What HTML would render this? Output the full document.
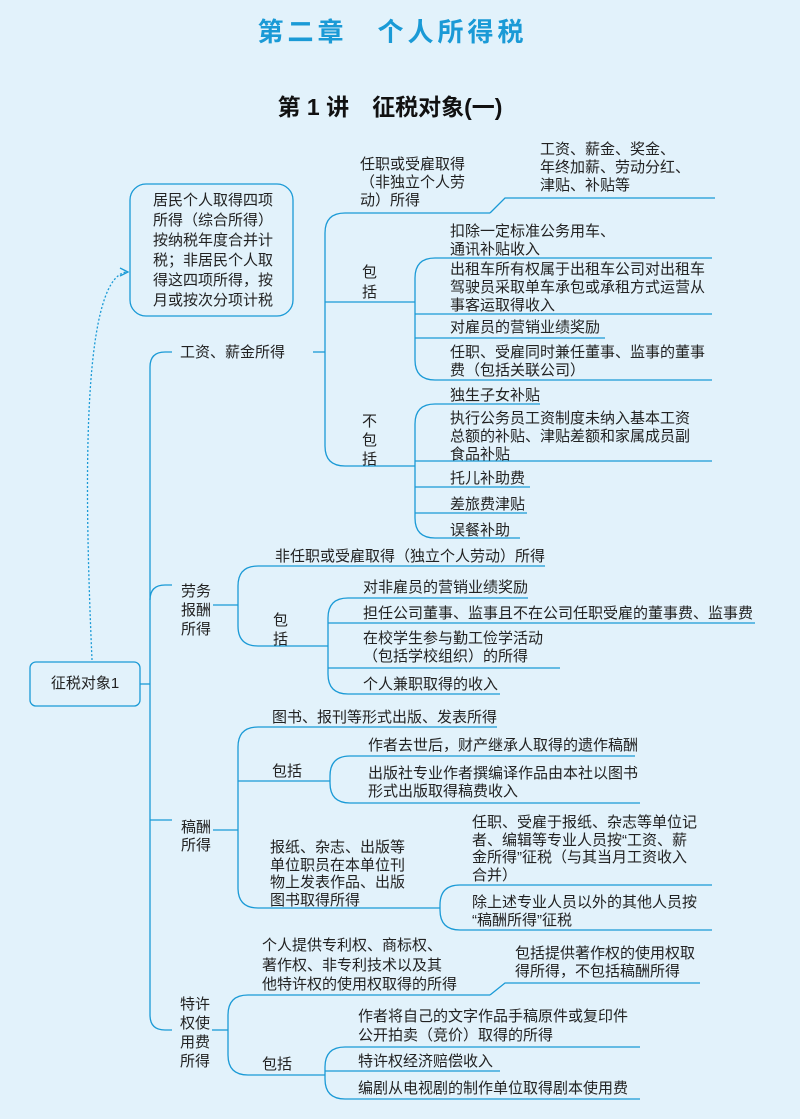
<!DOCTYPE html>
<html><head><meta charset="utf-8"><style>
body{margin:0;}
#c{position:relative;width:800px;height:1119px;background:#e2f2fb;overflow:hidden;font-family:"Liberation Sans","Noto Sans CJK SC",sans-serif;color:#222;}
.t{position:absolute;font-size:15px;line-height:18px;white-space:nowrap;}
svg{position:absolute;left:0;top:0;}
</style></head><body><div id="c">
<div class="t" style="left:0;width:785px;text-align:center;top:15px;font-size:26px;line-height:34px;color:#1a9ad6;font-weight:bold;letter-spacing:4px">第二章　个人所得税</div>
<div class="t" style="left:0;width:780px;text-align:center;top:92px;font-size:23px;line-height:30px;font-weight:bold;color:#111">第 1 讲　征税对象(一)</div>
<svg width="800" height="1119" fill="none" stroke="#1a9ad6" stroke-width="1.3">
<rect x="130" y="184" width="163" height="132" rx="16"/>
<rect x="30" y="662" width="110" height="44" rx="6"/>
<path d="M92,660 C85,500 80,280 126,272" stroke-dasharray="2,2"/>
<path d="M120,268 L128,272 L120,276"/>
<path d="M172,352 H165 Q150,352 150,367 V1015 Q150,1030 165,1030 H172"/>
<path d="M140,684 H150"/><path d="M150,600 Q150,585 165,585 H172"/><path d="M150,820 H172"/>
<path d="M313,352 H325"/>
<path d="M490,213 H345 Q325,213 325,233 V446 Q325,466 345,466 H415"/>
<path d="M490,213 L505,198 H715"/>
<path d="M325,302 H415"/>
<path d="M712,258 H435 Q415,258 415,278 V360 Q415,380 435,380 H712"/>
<path d="M415,314 H712"/><path d="M415,338 H605"/>
<path d="M540,404 H435 Q415,404 415,424 V518 Q415,538 435,538 H520"/>
<path d="M415,461 H712"/><path d="M415,487 H530"/><path d="M415,513 H527"/>
<path d="M213,605 H238"/>
<path d="M545,566 H258 Q238,566 238,586 V626 Q238,646 258,646 H328"/>
<path d="M528,598 H348 Q328,598 328,618 V674 Q328,694 348,694 H500"/>
<path d="M328,623 H755"/><path d="M328,668 H560"/>
<path d="M213,830 H238"/>
<path d="M497,727 H258 Q238,727 238,747 V888 Q238,908 258,908 H440"/>
<path d="M238,781 H330"/>
<path d="M635,756 H350 Q330,756 330,776 V783 Q330,803 350,803 H640"/>
<path d="M712,885 H460 Q440,885 440,905 V910 Q440,930 460,930 H712"/>
<path d="M212,1030 H228"/>
<path d="M490,995 H248 Q228,995 228,1015 V1055 Q228,1075 248,1075 H325"/>
<path d="M490,995 L505,983 H700"/>
<path d="M640,1047 H345 Q325,1047 325,1067 V1079 Q325,1099 345,1099 H640"/>
<path d="M325,1071 H500"/>
</svg>
<div class="t" style="left:153px;top:191px;line-height:20px">居民个人取得四项<br>所得（综合所得）<br>按纳税年度合并计<br>税；非居民个人取<br>得这四项所得，按<br>月或按次分项计税</div>
<div class="t" style="left:30px;width:110px;text-align:center;top:675px">征税对象1</div>
<div class="t" style="left:180px;top:344px">工资、薪金所得</div>
<div class="t" style="left:360px;top:156px">任职或受雇取得<br>（非独立个人劳<br>动）所得</div>
<div class="t" style="left:540px;top:141px">工资、薪金、奖金、<br>年终加薪、劳动分红、<br>津贴、补贴等</div>
<div class="t" style="left:362px;top:263px;line-height:20px">包<br>括</div>
<div class="t" style="left:450px;top:223px">扣除一定标准公务用车、<br>通讯补贴收入</div>
<div class="t" style="left:450px;top:261px">出租车所有权属于出租车公司对出租车<br>驾驶员采取单车承包或承租方式运营从<br>事客运取得收入</div>
<div class="t" style="left:450px;top:319px">对雇员的营销业绩奖励</div>
<div class="t" style="left:450px;top:344px">任职、受雇同时兼任董事、监事的董事<br>费（包括关联公司）</div>
<div class="t" style="left:362px;top:412px;line-height:19px">不<br>包<br>括</div>
<div class="t" style="left:450px;top:387px">独生子女补贴</div>
<div class="t" style="left:450px;top:410px">执行公务员工资制度未纳入基本工资<br>总额的补贴、津贴差额和家属成员副<br>食品补贴</div>
<div class="t" style="left:450px;top:470px">托儿补助费</div>
<div class="t" style="left:450px;top:496px">差旅费津贴</div>
<div class="t" style="left:450px;top:522px">误餐补助</div>
<div class="t" style="left:181px;top:582px;line-height:19px">劳务<br>报酬<br>所得</div>
<div class="t" style="left:275px;top:548px">非任职或受雇取得（独立个人劳动）所得</div>
<div class="t" style="left:273px;top:611px;line-height:19px">包<br>括</div>
<div class="t" style="left:363px;top:579px">对非雇员的营销业绩奖励</div>
<div class="t" style="left:363px;top:605px">担任公司董事、监事且不在公司任职受雇的董事费、监事费</div>
<div class="t" style="left:363px;top:630px">在校学生参与勤工俭学活动<br>（包括学校组织）的所得</div>
<div class="t" style="left:363px;top:676px">个人兼职取得的收入</div>
<div class="t" style="left:181px;top:819px">稿酬<br>所得</div>
<div class="t" style="left:272px;top:709px">图书、报刊等形式出版、发表所得</div>
<div class="t" style="left:272px;top:763px">包括</div>
<div class="t" style="left:368px;top:737px">作者去世后，财产继承人取得的遗作稿酬</div>
<div class="t" style="left:368px;top:765px">出版社专业作者撰编译作品由本社以图书<br>形式出版取得稿费收入</div>
<div class="t" style="left:270px;top:839px;line-height:17.5px">报纸、杂志、出版等<br>单位职员在本单位刊<br>物上发表作品、出版<br>图书取得所得</div>
<div class="t" style="left:472px;top:814px;line-height:17.5px">任职、受雇于报纸、杂志等单位记<br>者、编辑等专业人员按“工资、薪<br>金所得”征税（与其当月工资收入<br>合并）</div>
<div class="t" style="left:472px;top:894px;line-height:17.5px">除上述专业人员以外的其他人员按<br>“稿酬所得”征税</div>
<div class="t" style="left:180px;top:995px;line-height:19px">特许<br>权使<br>用费<br>所得</div>
<div class="t" style="left:262px;top:936px;line-height:19.5px">个人提供专利权、商标权、<br>著作权、非专利技术以及其<br>他特许权的使用权取得的所得</div>
<div class="t" style="left:515px;top:945px">包括提供著作权的使用权取<br>得所得，不包括稿酬所得</div>
<div class="t" style="left:262px;top:1056px">包括</div>
<div class="t" style="left:358px;top:1007px;line-height:19px">作者将自己的文字作品手稿原件或复印件<br>公开拍卖（竞价）取得的所得</div>
<div class="t" style="left:358px;top:1053px">特许权经济赔偿收入</div>
<div class="t" style="left:358px;top:1080px">编剧从电视剧的制作单位取得剧本使用费</div>
</div></body></html>
